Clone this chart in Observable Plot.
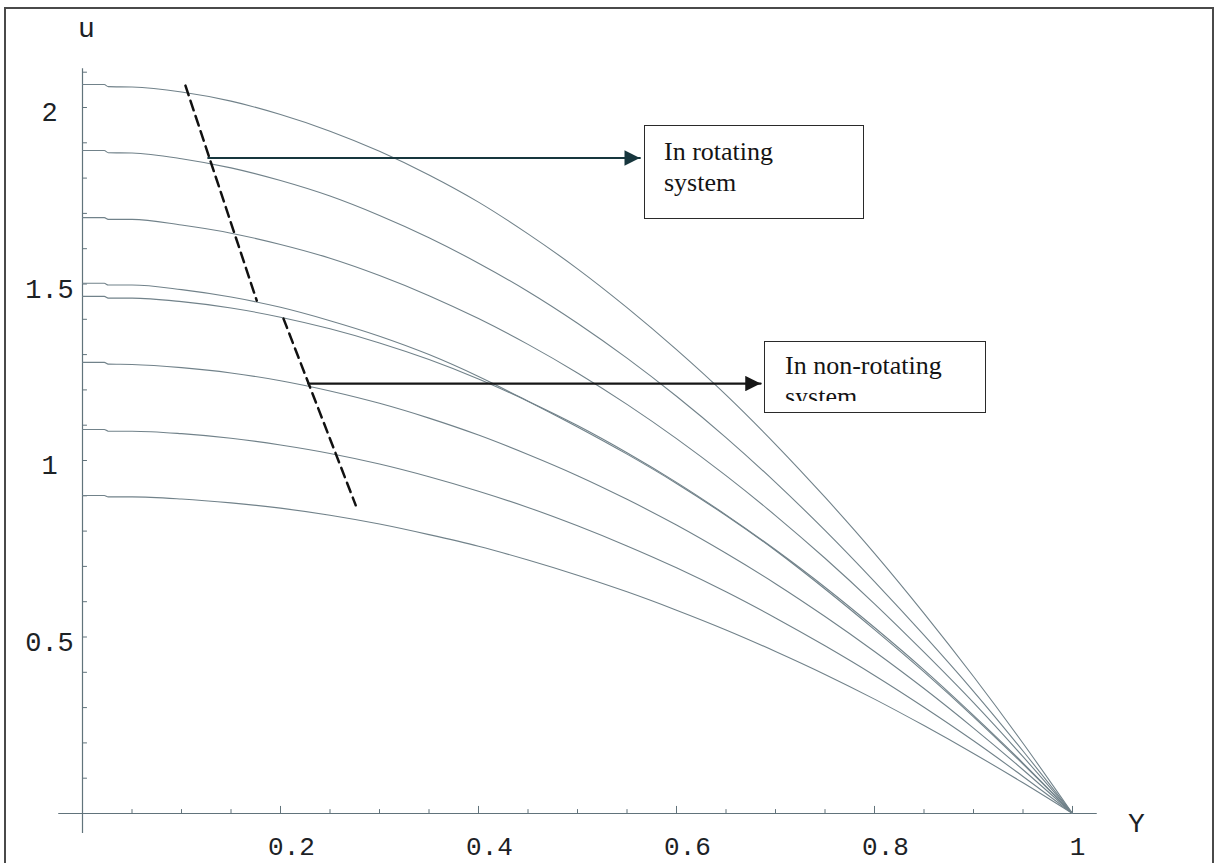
<!DOCTYPE html>
<html>
<head>
<meta charset="utf-8">
<script src="https://cdn.jsdelivr.net/npm/d3@7"></script>
<script src="https://cdn.jsdelivr.net/npm/@observablehq/plot@0.6"></script>
<style>
  body { margin: 0; background: #fff; }
  #wrap { position: relative; width: 1217px; height: 863px; overflow: hidden; background: #fff; }
  #frame { position: absolute; left: 4px; top: 7px; width: 1210px; height: 900px; border: 2px solid #4a4a4a; box-sizing: border-box; pointer-events: none; }
  #chart { position: absolute; left: 0; top: 0; }
  .box { position: absolute; border: 1.5px solid #2a2a2a; box-sizing: border-box; background: #fff;
         font-family: "Liberation Serif", "Times New Roman", serif; font-size: 26px; line-height: 31px; color: #141414; }
  .box .inner { overflow: hidden; white-space: nowrap; }
</style>
</head>
<body>
<div id="wrap">
  <div id="chart"></div>
  <div id="frame"></div>
  <div class="box" id="box1" style="left:644px; top:125px; width:220px; height:94px; padding:10px 0 0 19px;">
    <div class="inner">In rotating<br>system</div>
  </div>
  <div class="box" id="box2" style="left:764px; top:341px; width:222px; height:72px; padding:8px 0 0 20px;">
    <div class="inner" style="height:51px;">In non-rotating<br>system</div>
  </div>
</div>
<script>
// ---- data ----
const Ygrid = [0, 0.022, 0.026, 0.05, 0.1, 0.15, 0.2, 0.25, 0.3, 0.35, 0.4, 0.45, 0.5, 0.55, 0.6, 0.65, 0.7, 0.75, 0.8, 0.85, 0.9, 0.95, 1];

// rotating system
const rot1 = [2.065, 2.065, 2.059, 2.058, 2.044, 2.018, 1.980, 1.933, 1.876, 1.809, 1.732, 1.642, 1.543, 1.433, 1.314, 1.186, 1.046, 0.896, 0.737, 0.567, 0.388, 0.199, 0];
const rot2 = [1.878, 1.878, 1.872, 1.871, 1.855, 1.829, 1.793, 1.749, 1.694, 1.631, 1.559, 1.479, 1.389, 1.290, 1.182, 1.065, 0.938, 0.802, 0.657, 0.505, 0.346, 0.177, 0];
const rot3 = [1.688, 1.688, 1.683, 1.683, 1.667, 1.644, 1.612, 1.573, 1.524, 1.467, 1.402, 1.329, 1.248, 1.159, 1.062, 0.957, 0.844, 0.723, 0.594, 0.457, 0.314, 0.161, 0];
const rot4 = [1.502, 1.502, 1.497, 1.497, 1.484, 1.463, 1.434, 1.396, 1.352, 1.300, 1.238, 1.168, 1.095, 1.018, 0.935, 0.844, 0.745, 0.636, 0.521, 0.401, 0.274, 0.140, 0];
// non-rotating system
const non1 = [1.465, 1.465, 1.460, 1.460, 1.450, 1.432, 1.406, 1.373, 1.333, 1.286, 1.231, 1.168, 1.099, 1.022, 0.938, 0.846, 0.747, 0.641, 0.527, 0.407, 0.278, 0.143, 0];
const non2 = [1.278, 1.278, 1.273, 1.272, 1.263, 1.248, 1.226, 1.197, 1.162, 1.120, 1.072, 1.017, 0.957, 0.890, 0.817, 0.737, 0.651, 0.558, 0.459, 0.354, 0.242, 0.124, 0];
const non3 = [1.088, 1.088, 1.083, 1.083, 1.076, 1.063, 1.044, 1.020, 0.990, 0.954, 0.913, 0.867, 0.815, 0.758, 0.696, 0.628, 0.554, 0.475, 0.391, 0.301, 0.206, 0.105, 0];
const non4 = [0.901, 0.901, 0.897, 0.897, 0.891, 0.880, 0.865, 0.845, 0.820, 0.790, 0.757, 0.718, 0.675, 0.628, 0.576, 0.520, 0.459, 0.394, 0.324, 0.249, 0.170, 0.087, 0];

const seriesNames = ["rot1", "rot2", "rot3", "rot4", "non1", "non2", "non3", "non4"];
const seriesValues = [rot1, rot2, rot3, rot4, non1, non2, non3, non4];

// annotation geometry in data units
const dashRotating = [{Y: 0.104, u: 2.062}, {Y: 0.176, u: 1.453}];
const dashNonRotating = [{Y: 0.203, u: 1.402}, {Y: 0.276, u: 0.873}];
const arrowRotating = [{Y: 0.127, u: 1.857}, {Y: 0.563, u: 1.857}];
const arrowNonRotating = [{Y: 0.228, u: 1.218}, {Y: 0.685, u: 1.218}];

// axes and ticks
const xTickLabels = [0.2, 0.4, 0.6, 0.8, 1];
const yTickLabels = [0.5, 1, 1.5, 2];
const xMinorTicks = d3.range(1, 21).map(i => i * 0.05).filter(v => Math.abs(v * 5 - Math.round(v * 5)) > 1e-6);
const xMajorTicks = [0.2, 0.4, 0.6, 0.8, 1];
const yTicks = d3.range(1, 22).map(i => i / 10);
const xAxisExtent = [-0.024, 1.025];
const yAxisExtent = [-0.057, 2.11];

// ---- build ----
const rows = [];
seriesValues.forEach((vals, k) => {
  vals.forEach((u, i) => rows.push({curve: seriesNames[k], Y: Ygrid[i], u}));
});

const curveColor = "#71828a";
const axisColor = "#61737b";
const textColor = "#1c2226";

const arrowHead = (color) => {
  const ns = "http://www.w3.org/2000/svg";
  const m = document.createElementNS(ns, "marker");
  m.setAttribute("viewBox", "0 -5 10 10");
  m.setAttribute("refX", "10");
  m.setAttribute("refY", "0");
  m.setAttribute("markerWidth", "7");
  m.setAttribute("markerHeight", "7");
  m.setAttribute("orient", "auto");
  const p = document.createElementNS(ns, "path");
  p.setAttribute("d", "M0,-5L10,0L0,5Z");
  p.setAttribute("fill", color);
  p.setAttribute("stroke", "none");
  m.appendChild(p);
  return m;
};

const mono = "'Liberation Mono', 'Courier New', monospace";

const chart = Plot.plot({
  width: 1217,
  height: 863,
  marginLeft: 82,
  marginRight: 145,
  marginTop: 71.7,
  marginBottom: 50,
  x: {domain: [0, 1], axis: null},
  y: {domain: [0, 2.1], axis: null},
  style: {fontFamily: mono, background: "transparent", overflow: "visible"},
  marks: [
    // axis lines
    Plot.ruleY([0], {x1: xAxisExtent[0], x2: xAxisExtent[1], stroke: axisColor, strokeWidth: 1.2}),
    Plot.ruleX([0], {y1: yAxisExtent[0], y2: yAxisExtent[1], stroke: axisColor, strokeWidth: 1.2}),
    // ticks (pointing inward)
    Plot.ruleX(xMinorTicks, {x: d => d, y1: 0, y2: 0.011, stroke: axisColor}),
    Plot.ruleX(xMajorTicks, {x: d => d, y1: 0, y2: 0.02, stroke: axisColor}),
    Plot.ruleY(yTicks, {y: d => d, x1: 0, x2: 0.005, stroke: axisColor}),
    // tick labels
    Plot.text(xTickLabels.filter(d => d !== 1), {x: d => d, y: 0, text: d => String(d), dy: 33, dx: 11, fontSize: 26, fill: textColor}),
    Plot.text(xTickLabels.filter(d => d === 1), {x: d => d, y: 0, text: d => String(d), dy: 33, dx: 5, fontSize: 26, fill: textColor}),
    Plot.text(yTickLabels, {x: 0, y: d => d, text: d => String(d), dx: -33, dy: 5, textAnchor: "middle", fontSize: 27, fill: textColor}),
    // axis names
    Plot.text(["u"], {x: 0, y: 2.1, text: d => d, dx: 4, dy: -44, fontSize: 28, fill: textColor}),
    Plot.text(["Y"], {x: 1, y: 0, text: d => d, dx: 64, dy: 10, fontSize: 28, fill: textColor}),
    // velocity profiles
    Plot.line(rows, {x: "Y", y: "u", z: "curve", stroke: curveColor, strokeWidth: 1.1, curve: "monotone-x"}),
    // dashed guide lines
    Plot.line(dashRotating, {x: "Y", y: "u", stroke: "#111", strokeWidth: 2.5, strokeDasharray: "10,6"}),
    Plot.line(dashNonRotating, {x: "Y", y: "u", stroke: "#111", strokeWidth: 2.5, strokeDasharray: "10,6"}),
    // arrows
    Plot.line(arrowRotating, {x: "Y", y: "u", stroke: "#17363d", strokeWidth: 2.2, markerEnd: arrowHead}),
    Plot.line(arrowNonRotating, {x: "Y", y: "u", stroke: "#161616", strokeWidth: 2.2, markerEnd: arrowHead})
  ]
});

document.getElementById("chart").appendChild(chart);
</script>
</body>
</html>
